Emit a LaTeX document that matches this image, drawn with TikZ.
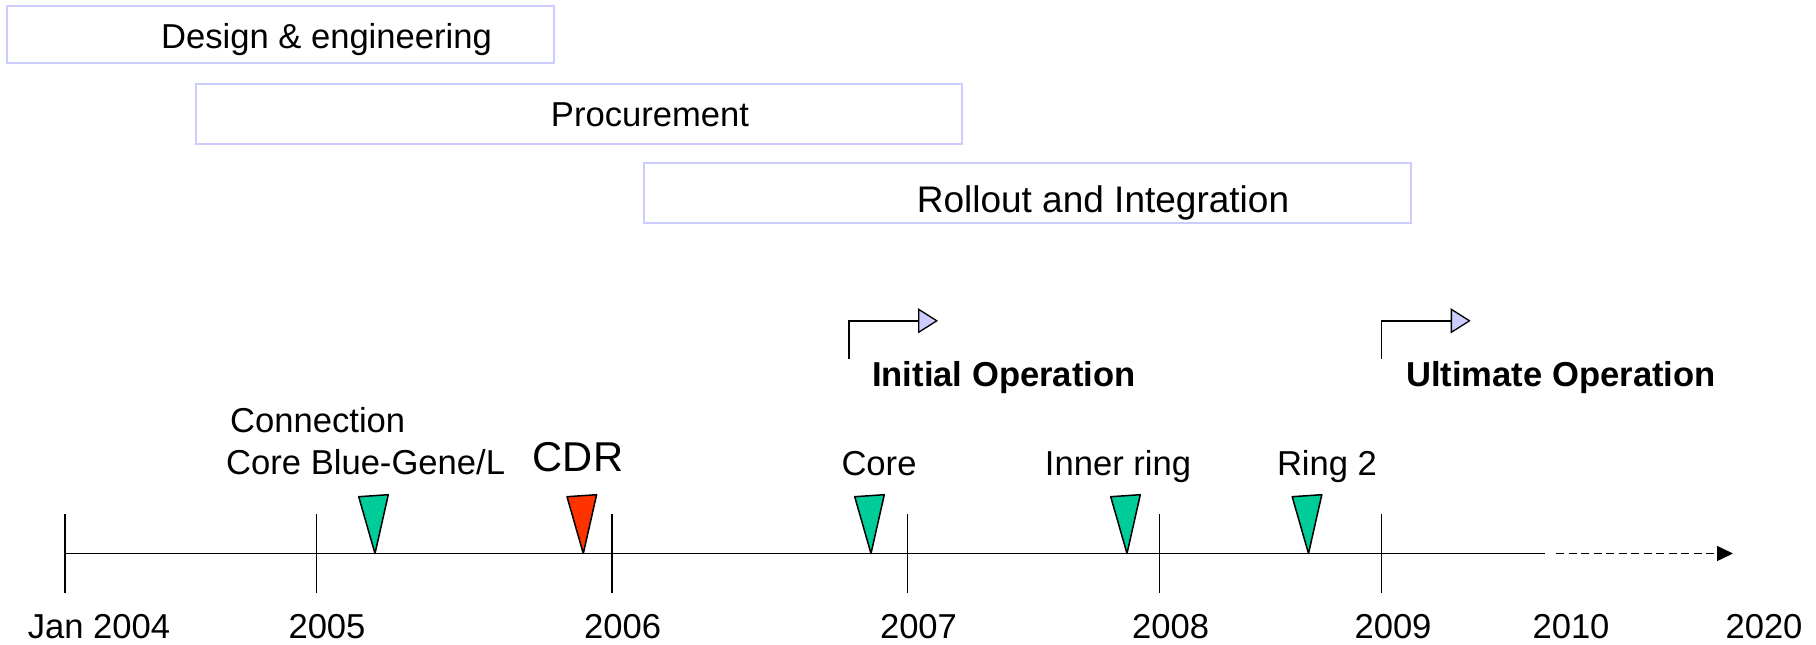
\documentclass[tikz,border=0pt]{standalone}
\usepackage{fontspec}
\setmainfont{Liberation Sans}
\usetikzlibrary{arrows.meta}
\definecolor{lavender}{RGB}{204,204,255}
\definecolor{milegreen}{RGB}{0,204,153}
\definecolor{milered}{RGB}{255,51,0}

\begin{document}
\begin{tikzpicture}[x=1pt,y=-1pt,
  phasebox/.style={draw=lavender, line width=2pt, inner sep=0pt},
  lbl/.style={inner sep=0pt, anchor=base, font=\fontsize{34.6}{40}\selectfont},
  boldlbl/.style={inner sep=0pt, anchor=base west, font=\fontsize{34.6}{40}\selectfont\bfseries},
  axisline/.style={line width=1.6pt},
  tickline/.style={line width=1.4pt},
  milestone/.style={draw=black, line width=1.5pt, line join=round},
  golive/.style={line width=1.5pt,
    -{Triangle[length=20pt,width=25pt,fill=lavender,line width=1.3pt]}},
]
\useasboundingbox (0,0) rectangle (1816,645);

% project phases
\node (design) [phasebox, minimum width=547pt, minimum height=57pt] at (280.5,34.5) {};
\node (designlbl) [lbl] at (326.5,48.6) {Design \& engineering};
\node (proc) [phasebox, minimum width=766.5pt, minimum height=60pt] at (579.2,113.5) {};
\node (proclbl) [lbl] at (650,126) {Procurement};
\node (roll) [phasebox, minimum width=766.7pt, minimum height=60pt] at (1027.3,193.4) {};
\node (rolllbl) [lbl, font=\fontsize{37}{42}\selectfont] at (1103,212) {Rollout and Integration};

% operation start markers
\coordinate (initA) at (849,359);
\coordinate (initB) at (938,320.8);
\draw[golive] (initA) |- (initB);
\node (initlbl) [boldlbl] at (872,386.5) {Initial Operation};
\coordinate (ultA) at (1381.7,359);
\coordinate (ultB) at (1470.7,320.8);
\draw[golive] (ultA) |- (ultB);
\node (ultlbl) [boldlbl] at (1406,386.5) {Ultimate Operation};

% time axis
\coordinate (axstart) at (64.9,553.5);
\coordinate (axend) at (1545,553.5);
\draw[axisline] (axstart) -- (axend);
\coordinate (dashstart) at (1556,553.5);
\coordinate (dashend) at (1733,553.5);
\draw[line width=1.4pt, dash pattern=on 8pt off 4.5pt,
  -{Triangle[length=16pt,width=15pt]}] (dashstart) -- (dashend);

% year ticks
\foreach \nm/\x in {y04/64.9, y05/316.3, y06/612, y07/907.5, y08/1159.6, y09/1381.7} {
  \coordinate (\nm top) at (\x,514);
  \coordinate (\nm bot) at (\x,593);
  \draw[tickline] (\nm top) -- (\nm bot);
}

% year labels
\node (l04) [lbl] at (99,638) {Jan 2004};
\node (l05) [lbl] at (327,638) {2005};
\node (l06) [lbl] at (622.6,638) {2006};
\node (l07) [lbl] at (918.5,638) {2007};
\node (l08) [lbl] at (1170.6,638) {2008};
\node (l09) [lbl] at (1393,638) {2009};
\node (l10) [lbl] at (1571,638) {2010};
\node (l20) [lbl] at (1764,638) {2020};

% milestones
\foreach \nm/\tx/\col in {m1/375/milegreen, m2/583.3/milered, m3/871/milegreen,
                          m4/1127/milegreen, m5/1308.5/milegreen} {
  \coordinate (\nm tip) at (\tx,553.5);
  \coordinate (\nm l) at (\tx-16.3,496.7);
  \coordinate (\nm r) at (\tx+13.3,494.7);
  \filldraw[milestone, fill=\col] (\nm l) -- (\nm r) -- (\nm tip) -- cycle;
}

% milestone labels
\node (conn1) [lbl, anchor=base west] at (230,432) {Connection};
\node (conn2) [lbl, anchor=base west] at (226,474) {Core Blue-Gene/L};
\node (cdr) [inner sep=0pt, anchor=base, font=\fontsize{41.7}{48}\selectfont] at (578,471.5) {CDR};
\node (core) [lbl] at (879,475) {Core};
\node (inner) [lbl] at (1118,475) {Inner ring};
\node (ring2) [lbl] at (1327,475) {Ring 2};
\end{tikzpicture}
\end{document}
